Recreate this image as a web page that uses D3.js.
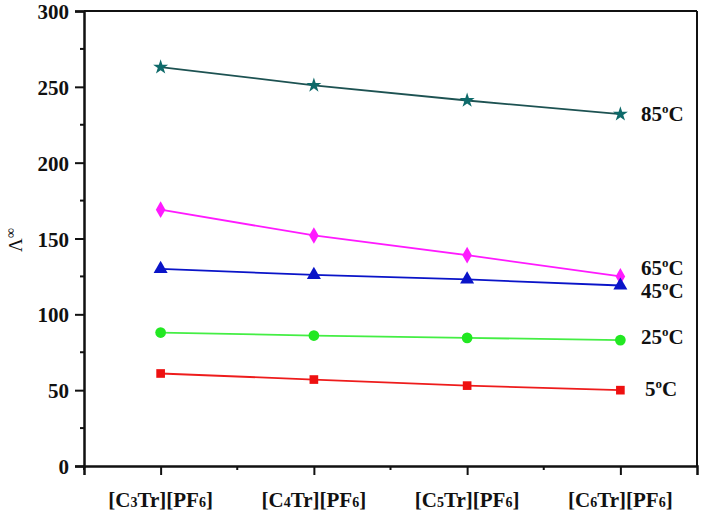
<!DOCTYPE html>
<html><head><meta charset="utf-8">
<script src="https://cdn.jsdelivr.net/npm/d3@7"></script>
<style>body{margin:0;background:#fff} text{font-family:"Liberation Serif","Times New Roman",serif;}</style>
</head><body><svg id="c" width="704" height="520"></svg>
<script>
const categories = [["3","6"],["4","6"],["5","6"],["6","6"]];
const seriesNames = ["85","65","45","25","5"];
const v85 = [263, 251, 241, 232];
const v65 = [169, 152, 139, 125];
const v45 = [130, 126, 123, 119];
const v25 = [88, 86, 84.5, 83];
const v5  = [61, 57, 53, 50];
const yTicks = [0, 50, 100, 150, 200, 250, 300];
const yMinor = [25, 75, 125, 175, 225, 275];
const labelShift = [7, -1, 12, 4, 6];

const series = [v85, v65, v45, v25, v5];
const lineColors = ["#1d5252", "#ff1aff", "#0a14c8", "#44ee44", "#ee1c1c"];
const markColors = ["#0e6a6a", "#ff1aff", "#0a14c8", "#22e822", "#ee1010"];
const symbols = [d3.symbolStar, d3.symbolDiamond, d3.symbolTriangle, d3.symbolCircle, d3.symbolSquare];
const sizes = [70, 80, 85, 90, 75];

const svg = d3.select("#c");
const L = 84, R = 697, T = 11, B = 466;
const x = d3.scaleLinear().domain([0.5, 4.5]).range([L, R]);
const y = d3.scaleLinear().domain([0, 300]).range([B, T]);
const font = "'Liberation Serif','Times New Roman',serif";

// frame
svg.append("line").attr("x1", L).attr("x2", R).attr("y1", T).attr("y2", T).attr("stroke", "#111").attr("stroke-width", 2);
svg.append("line").attr("x1", R).attr("x2", R).attr("y1", T).attr("y2", B).attr("stroke", "#111").attr("stroke-width", 2);

// y axis
const ya = svg.append("g").attr("transform", `translate(${L},0)`)
  .call(d3.axisLeft(y).tickValues(yTicks).tickSize(9).tickPadding(6));
ya.attr("font-family", null).attr("font-size", null);
ya.select(".domain").attr("stroke", "#111").attr("stroke-width", 2.5);
ya.selectAll(".tick line").attr("stroke", "#111").attr("stroke-width", 2);
ya.selectAll("text").style("font-family", font).style("font-weight", "bold").style("font-size", "21px").attr("fill", "#111").attr("dy", "0.36em");
svg.append("g").selectAll("line").data(yMinor).join("line")
  .attr("x1", L - 4).attr("x2", L).attr("y1", d => y(d)).attr("y2", d => y(d))
  .attr("stroke", "#111").attr("stroke-width", 2);

// x axis
const xa = svg.append("g").attr("transform", `translate(0,${B})`)
  .call(d3.axisBottom(x).tickValues([1, 2, 3, 4]).tickSize(9).tickFormat(""));
xa.select(".domain").attr("stroke", "#111").attr("stroke-width", 2.5);
xa.selectAll(".tick line").attr("stroke", "#111").attr("stroke-width", 2);
svg.append("g").selectAll("line").data([0.5, 1.5, 2.5, 3.5]).join("line")
  .attr("x1", d => x(d)).attr("x2", d => x(d)).attr("y1", B).attr("y2", B + 4)
  .attr("stroke", "#111").attr("stroke-width", 2);

const xl = svg.append("g").selectAll("text").data(categories).join("text")
  .attr("x", (d, i) => x(i + 1)).attr("y", 507).attr("text-anchor", "middle")
  .style("font-family", font).style("font-weight", "bold").style("font-size", "21px").attr("fill", "#111");
xl.each(function(d) {
  const t = d3.select(this);
  t.append("tspan").text("[C");
  t.append("tspan").text(d[0]).style("font-size", "14px");
  t.append("tspan").text("Tr][PF");
  t.append("tspan").text(d[1]).style("font-size", "14px");
  t.append("tspan").text("]");
});

// y label
svg.append("text").attr("transform", "translate(22,240) rotate(-90)").attr("text-anchor", "middle")
  .style("font-family", font).style("font-size", "19px").attr("fill", "#111")
  .text("Λ").append("tspan").style("font-size", "14px").attr("dy", -7).text("∞");

// series
const line = d3.line().x((d, i) => x(i + 1)).y(d => y(d));
series.forEach((s, k) => {
  svg.append("path").datum(s).attr("d", line).attr("fill", "none")
    .attr("stroke", lineColors[k]).attr("stroke-width", 1.8);
  svg.append("g").selectAll("path").data(s).join("path")
    .attr("transform", (d, i) => `translate(${x(i + 1)},${y(d)})`)
    .attr("d", d3.symbol().type(symbols[k]).size(sizes[k]))
    .attr("fill", markColors[k]);
  const last = s[s.length - 1];
  const t = svg.append("text").attr("x", k === 4 ? 645 : 641).attr("y", y(last) + labelShift[k])
    .style("font-family", font).style("font-weight", "bold").style("font-size", "21px").attr("fill", "#111");
  t.append("tspan").text(seriesNames[k]);
  t.append("tspan").text("o").style("font-size", "13px").attr("dy", -8);
  t.append("tspan").text("C").attr("dy", 8);
});
</script></body></html>
